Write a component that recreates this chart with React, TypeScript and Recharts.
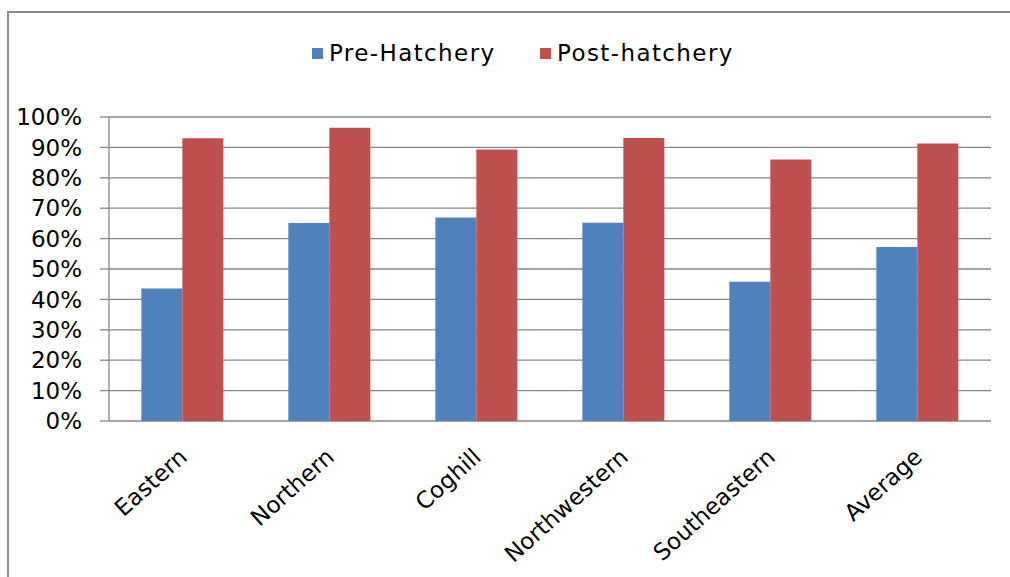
import * as React from "react";
import { Bar, BarChart, CartesianGrid, XAxis, YAxis } from "recharts";

// survival by region, before and after the hatchery (percent)
const regions = ["Eastern", "Northern", "Coghill", "Northwestern", "Southeastern", "Average"];
const preHatchery = [43.6, 65.1, 66.9, 65.2, 45.8, 57.2];
const postHatchery = [93.0, 96.5, 89.3, 93.1, 86.0, 91.3];
const yTicks = [0, 10, 20, 30, 40, 50, 60, 70, 80, 90, 100];
const boundaryTicks = [0, 1, 2, 3, 4, 5, 6];

const BLUE = "#4F81BD";
const RED = "#C0504D";
const AXIS = "#868686";
const FONT = "'DejaVu Sans', 'Open Sans', sans-serif";

const data = regions.map((name, i) => ({
  name,
  pre: preHatchery[i],
  post: postHatchery[i],
}));

function CategoryTick({ x, y, payload }: any) {
  return (
    <text
      transform={`translate(${x + 6},${y + 30}) rotate(-42)`}
      textAnchor="end"
      fontSize={23}
      fontFamily={FONT}
      fill="#000"
    >
      {payload.value}
    </text>
  );
}

function LegendItem({ color, label, left }: { color: string; label: string; left: number }) {
  return (
    <div style={{ position: "absolute", left, top: 38, display: "flex", alignItems: "center" }}>
      <div style={{ width: 11, height: 11, background: color, marginRight: 6 }} />
      <span
        style={{ fontFamily: FONT, fontSize: 23, letterSpacing: 1.4, color: "#000", lineHeight: "30px" }}
      >
        {label}
      </span>
    </div>
  );
}

export default function App() {
  return (
    <div
      style={{
        position: "fixed",
        left: 0,
        top: 0,
        width: 1010,
        height: 577,
        overflow: "hidden",
        background: "#fff",
      }}
    >
      {/* chart frame, cut off at the right and bottom like the original */}
      <div
        style={{
          position: "absolute",
          left: 7,
          top: 11,
          width: 1100,
          height: 700,
          border: "2px solid #8c8c8c",
        }}
      />
      <LegendItem color={BLUE} label="Pre-Hatchery" left={312} />
      <LegendItem color={RED} label="Post-hatchery" left={540} />
      <div style={{ position: "absolute", left: 0, top: 0 }}>
        <BarChart
          width={1010}
          height={577}
          data={data}
          margin={{ top: 117, right: 19, bottom: 0, left: 9 }}
          barCategoryGap="22%"
          barGap={0}
        >
          <CartesianGrid vertical={false} stroke={AXIS} strokeWidth={1.3} />
          {/* tick marks on the category boundaries */}
          <XAxis
            xAxisId="bounds"
            type="number"
            domain={[0, 6]}
            ticks={boundaryTicks}
            tick={false}
            tickSize={8}
            height={0}
            axisLine={{ stroke: AXIS, strokeWidth: 1.3 }}
            tickLine={{ stroke: AXIS, strokeWidth: 1.3 }}
          />
          <XAxis
            dataKey="name"
            interval={0}
            height={156}
            axisLine={false}
            tickLine={false}
            tick={<CategoryTick />}
          />
          <YAxis
            width={100}
            domain={[0, 100]}
            ticks={yTicks}
            interval={0}
            tickFormatter={(v) => `${v}%`}
            tickSize={9}
            tickMargin={18}
            axisLine={{ stroke: AXIS, strokeWidth: 1.3 }}
            tickLine={{ stroke: AXIS, strokeWidth: 1.3 }}
            tick={{ fontSize: 23, fontFamily: FONT, fill: "#000" }}
          />
          <Bar dataKey="pre" name="Pre-Hatchery" fill={BLUE} isAnimationActive={false} />
          <Bar dataKey="post" name="Post-hatchery" fill={RED} isAnimationActive={false} />
        </BarChart>
      </div>
    </div>
  );
}
